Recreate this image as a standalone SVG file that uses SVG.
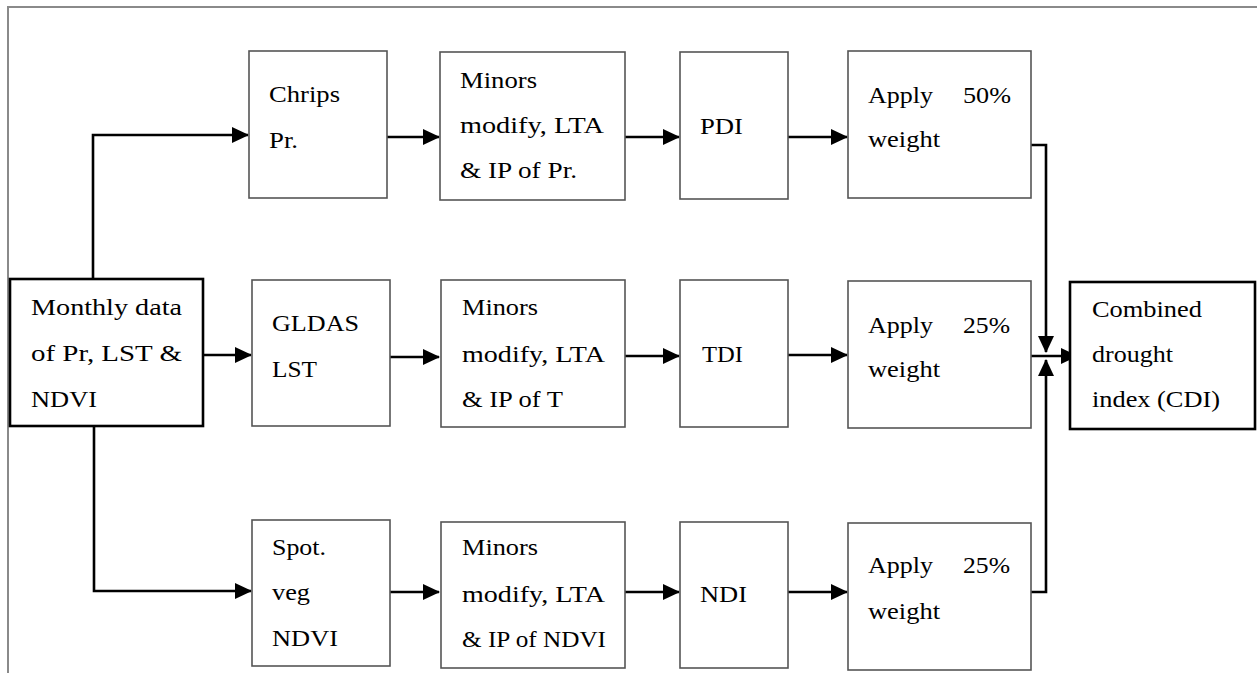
<svg xmlns="http://www.w3.org/2000/svg" width="1257" height="673" viewBox="0 0 1257 673" font-family="'Liberation Serif', serif">
  <style>
    .box { fill: #fff; stroke: #555; stroke-width: 1.6; }
    .box-main { fill: #fff; stroke: #000; stroke-width: 2.6; }
    .frame { fill: none; stroke: #8a8a8a; stroke-width: 2; }
    .link { fill: none; stroke: #000; stroke-width: 2.6; }
    .t { font-family: 'Liberation Serif', serif; font-size: 23px; fill: #000; }
  </style>
  <defs>
    <marker id="arrow" markerUnits="userSpaceOnUse" viewBox="0 0 17 16" markerWidth="17" markerHeight="16" refX="16" refY="8" orient="auto">
      <path d="M0,0 L17,8 L0,16 Z" fill="#000"/>
    </marker>
  </defs>

  <rect width="1257" height="673" fill="#fff"/>
  <!-- outer frame (open on right and bottom) -->
  <path class="frame" d="M8,673 V7 H1257"/>

  <g id="connectors">
    <!-- source fan-out -->
    <path class="link" d="M93,279 V135 H248" marker-end="url(#arrow)"/>
    <path class="link" d="M198,355 H251" marker-end="url(#arrow)"/>
    <path class="link" d="M94,426 V591 H251" marker-end="url(#arrow)"/>
    <!-- precipitation chain -->
    <path class="link" d="M387,137 H439" marker-end="url(#arrow)"/>
    <path class="link" d="M625,137 H679" marker-end="url(#arrow)"/>
    <path class="link" d="M788,137 H847" marker-end="url(#arrow)"/>
    <!-- temperature chain -->
    <path class="link" d="M390,357 H439" marker-end="url(#arrow)"/>
    <path class="link" d="M625,356 H679" marker-end="url(#arrow)"/>
    <path class="link" d="M788,355 H847" marker-end="url(#arrow)"/>
    <!-- vegetation chain -->
    <path class="link" d="M390,592 H439" marker-end="url(#arrow)"/>
    <path class="link" d="M625,592 H679" marker-end="url(#arrow)"/>
    <path class="link" d="M788,592 H847" marker-end="url(#arrow)"/>
    <!-- weighted merge -->
    <path class="link" d="M1031,145 H1046 V352" marker-end="url(#arrow)"/>
    <path class="link" d="M1031,592 H1046 V360" marker-end="url(#arrow)"/>
    <path class="link" d="M1031,356 H1077" marker-end="url(#arrow)"/>
  </g>

  <g id="monthly-data">
    <rect class="box-main" x="10" y="279" width="193" height="147"/>
    <text class="t" x="31" y="315" textLength="151" lengthAdjust="spacingAndGlyphs">Monthly  data</text>
    <text class="t" x="31" y="361" textLength="151" lengthAdjust="spacingAndGlyphs">of Pr, LST &amp;</text>
    <text class="t" x="31" y="407" textLength="66" lengthAdjust="spacingAndGlyphs">NDVI</text>
  </g>

  <g id="chrips">
    <rect class="box" x="249" y="51" width="138" height="147"/>
    <text class="t" x="269" y="102" textLength="71" lengthAdjust="spacingAndGlyphs">Chrips</text>
    <text class="t" x="269" y="148" textLength="29" lengthAdjust="spacingAndGlyphs">Pr.</text>
  </g>

  <g id="gldas">
    <rect class="box" x="252" y="280" width="138" height="146"/>
    <text class="t" x="272" y="331" textLength="87" lengthAdjust="spacingAndGlyphs">GLDAS</text>
    <text class="t" x="272" y="377" textLength="45" lengthAdjust="spacingAndGlyphs">LST</text>
  </g>

  <g id="spot">
    <rect class="box" x="252" y="520" width="138" height="146"/>
    <text class="t" x="272" y="555" textLength="54" lengthAdjust="spacingAndGlyphs">Spot.</text>
    <text class="t" x="272" y="600" textLength="38" lengthAdjust="spacingAndGlyphs">veg</text>
    <text class="t" x="272" y="646" textLength="66" lengthAdjust="spacingAndGlyphs">NDVI</text>
  </g>

  <g id="minors-pr">
    <rect class="box" x="440" y="52" width="185" height="148"/>
    <text class="t" x="460" y="88" textLength="77" lengthAdjust="spacingAndGlyphs">Minors</text>
    <text class="t" x="460" y="133" textLength="144" lengthAdjust="spacingAndGlyphs">modify,  LTA</text>
    <text class="t" x="460" y="178" textLength="117" lengthAdjust="spacingAndGlyphs">&amp; IP of Pr.</text>
  </g>

  <g id="minors-t">
    <rect class="box" x="441" y="280" width="184" height="147"/>
    <text class="t" x="462" y="315" textLength="76" lengthAdjust="spacingAndGlyphs">Minors</text>
    <text class="t" x="462" y="362" textLength="143" lengthAdjust="spacingAndGlyphs">modify,  LTA</text>
    <text class="t" x="462" y="407" textLength="101" lengthAdjust="spacingAndGlyphs">&amp; IP of T</text>
  </g>

  <g id="minors-ndvi">
    <rect class="box" x="441" y="522" width="184" height="146"/>
    <text class="t" x="462" y="555" textLength="76" lengthAdjust="spacingAndGlyphs">Minors</text>
    <text class="t" x="462" y="602" textLength="143" lengthAdjust="spacingAndGlyphs">modify,  LTA</text>
    <text class="t" x="462" y="647" textLength="144" lengthAdjust="spacingAndGlyphs">&amp; IP of NDVI</text>
  </g>

  <g id="pdi">
    <rect class="box" x="680" y="52" width="108" height="147"/>
    <text class="t" x="700" y="134" textLength="43" lengthAdjust="spacingAndGlyphs">PDI</text>
  </g>

  <g id="tdi">
    <rect class="box" x="680" y="280" width="108" height="147"/>
    <text class="t" x="702" y="362" textLength="41" lengthAdjust="spacingAndGlyphs">TDI</text>
  </g>

  <g id="ndi">
    <rect class="box" x="680" y="522" width="108" height="146"/>
    <text class="t" x="700" y="602" textLength="47" lengthAdjust="spacingAndGlyphs">NDI</text>
  </g>

  <g id="weight-pr">
    <rect class="box" x="848" y="51" width="183" height="147"/>
    <text class="t" x="868" y="103" textLength="65" lengthAdjust="spacingAndGlyphs">Apply</text>
    <text class="t" x="963" y="103" textLength="48" lengthAdjust="spacingAndGlyphs">50%</text>
    <text class="t" x="868" y="147" textLength="72" lengthAdjust="spacingAndGlyphs">weight</text>
  </g>

  <g id="weight-t">
    <rect class="box" x="848" y="281" width="183" height="147"/>
    <text class="t" x="868" y="333" textLength="65" lengthAdjust="spacingAndGlyphs">Apply</text>
    <text class="t" x="963" y="333" textLength="47" lengthAdjust="spacingAndGlyphs">25%</text>
    <text class="t" x="868" y="377" textLength="72" lengthAdjust="spacingAndGlyphs">weight</text>
  </g>

  <g id="weight-ndvi">
    <rect class="box" x="848" y="523" width="183" height="147"/>
    <text class="t" x="868" y="573" textLength="65" lengthAdjust="spacingAndGlyphs">Apply</text>
    <text class="t" x="963" y="573" textLength="47" lengthAdjust="spacingAndGlyphs">25%</text>
    <text class="t" x="868" y="619" textLength="72" lengthAdjust="spacingAndGlyphs">weight</text>
  </g>

  <g id="cdi">
    <rect class="box-main" x="1070" y="282" width="185" height="147"/>
    <text class="t" x="1092" y="317" textLength="110" lengthAdjust="spacingAndGlyphs">Combined</text>
    <text class="t" x="1092" y="362" textLength="81" lengthAdjust="spacingAndGlyphs">drought</text>
    <text class="t" x="1092" y="407" textLength="128" lengthAdjust="spacingAndGlyphs">index (CDI)</text>
  </g>
</svg>
